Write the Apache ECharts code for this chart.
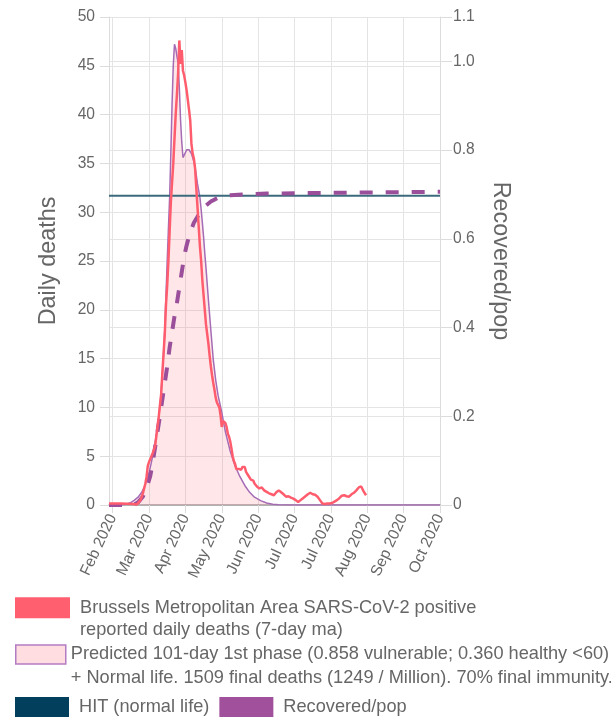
<!DOCTYPE html>
<html>
<head>
<meta charset="utf-8">
<script src="https://cdn.jsdelivr.net/npm/echarts@6/dist/echarts.min.js"></script>
<style>
html,body{margin:0;padding:0;background:#fff;}
#chart{width:611px;height:719px;}
</style>
</head>
<body>
<div id="chart"></div>
<script>
// ---- Data ----
const startDate = '2020-01-29';
const dayCount = 274;
const tickIdx = [3, 33, 63, 93, 123, 153, 183, 213, 243, 273];
const tickLabels = ['Feb 2020','Mar 2020','Apr 2020','May 2020','Jun 2020','Jul 2020','Jul 2020','Aug 2020','Sep 2020','Oct 2020'];

const RED_NAME = 'Brussels Metropolitan Area SARS-CoV-2 positive reported daily deaths (7-day ma)';
const PRED_NAME = 'Predicted 101-day 1st phase (0.858 vulnerable; 0.360 healthy <60) + Normal life. 1509 final deaths (1249 / Million). 70% final immunity.';
const HIT_NAME = 'HIT (normal life)';
const REC_NAME = 'Recovered/pop';

const redDays = [0,10,20,23,24,26,28,30,31,32,33,34,35,36,37,38,39,40,41,42,43,44,45,46,47,48,49,50,51,52,53,54,55,56,57,58,59,60,61,62,63,64,65,66,67,68,69,70,71,72,73,74,75,76,77,78,79,80,81,82,83,84,85,86,87,88,89,90,91,92,93,94,95,96,97,98,99,100,101,102,103,104,105,106,107,108,109,110,111,112,113,114,115,116,117,118,119,120,121,122,124,126,128,130,132,134,136,138,140,142,144,146,148,150,152,154,156,158,160,162,164,166,168,170,172,174,176,178,180,182,184,186,188,190,192,194,196,198,200,202,204,206,207,208,209,210,212];
const redVals = [0.15,0.15,0.1,0.05,0,0.5,1.2,2.2,2.9,4.0,4.4,4.7,5.0,5.3,5.5,6.0,7.0,8.0,9.0,10.2,11.3,13.5,15.5,17.5,20.5,22.5,25,28,31,33,35,37.5,40,42,44.2,47.6,45.2,46.6,44.5,44,43.3,42.5,41.5,40.5,39.4,37,36,35.5,34.5,32.5,30.5,28.5,26.5,25,23,21.5,20,18.5,17.5,16.5,15.3,14.2,13.3,12.5,11.8,11,10.5,10.6,10,9.2,8.0,8.6,8.8,8.4,8.0,7.3,7.0,6.5,5.8,5.0,4.5,4.2,3.7,3.6,3.7,3.8,3.6,3.9,3.7,3.9,3.4,3.2,3.0,2.9,2.6,2.5,2.5,2.2,2.0,1.9,1.7,1.8,1.5,1.35,1.2,1.1,1.0,1.3,1.5,1.3,1.1,0.85,0.9,0.75,0.65,0.5,0.3,0.5,0.7,0.9,1.1,1.25,1.1,1.05,0.85,0.5,0.15,0.1,0.15,0.15,0.2,0.35,0.5,0.7,0.95,1.0,0.9,0.85,1.1,1.25,1.5,1.8,1.6,1.9,1.7,1.4,1.0];

const predDays = [0,10,15,18,21,24,27,29,31,33,35,37,39,41,42,43,44,45,46,47,48,49,50,51,52,53,54,55,56,57,58,59,60,61,62,63,64,65,66,67,68,69,70,71,72,73,74,75,76,77,78,79,80,82,84,86,88,90,93,96,100,104,108,112,116,120,125,130,135,140,150,273];
const predVals = [0,0.03,0.1,0.25,0.5,0.8,1.3,1.8,2.5,3.3,4.4,5.6,7.2,9.0,10.1,11.6,13.5,15.5,18,21.5,25,28.3,31.5,36,41,45,47.2,46.8,46,45.3,42.8,39.5,37.2,35.6,35.7,36.1,36.4,36.5,36.4,36.2,36,35.6,35.2,34.6,33.8,32.9,32.2,31.5,30.3,28.9,27.5,25.8,24.3,21,17.9,14.9,12.8,11.2,9.5,7.5,5.5,4.0,2.9,2.0,1.3,0.8,0.45,0.2,0.08,0.03,0,0];

const recDays = [0,20,24,28,31,34,36,38,40,42,44,46,48,50,52,54,56,58,60,62,64,66,68,70,73,76,80,84,88,92,100,110,130,160,200,240,273];
const recVals = [0,0,0.006,0.019,0.038,0.065,0.095,0.13,0.165,0.2,0.238,0.275,0.312,0.355,0.39,0.425,0.455,0.49,0.525,0.56,0.585,0.605,0.622,0.636,0.65,0.662,0.675,0.684,0.69,0.695,0.698,0.7,0.702,0.703,0.704,0.705,0.706];

const hitDays = [0, 273];
const hitVals = [0.697, 0.697];

// ---- Build ----
const categories = [];
(function(){
  const d0 = new Date(startDate + 'T00:00:00Z');
  for (let i = 0; i < dayCount; i++) {
    const d = new Date(d0.getTime() + i * 86400000);
    categories.push(d.toISOString().slice(0, 10));
  }
})();
const pairs = (xs, ys) => xs.map((x, i) => [x, ys[i]]);
const isTick = (idx) => tickIdx.indexOf(idx) >= 0;

const chart = echarts.init(document.getElementById('chart'), null, {renderer: 'canvas'});
const FONT = 'Liberation Sans, Arial, Helvetica, sans-serif';
const TXT = '#666';
const FS = 15.6;
const LFS = 18.2;

const option = {
  animation: false,
  textStyle: {fontFamily: FONT},
  grid: {left: 109, right: 171, top: 17, bottom: 214, containLabel: false},
  legend: [
    {
      left: 15, top: 574.8, padding: 0, orient: 'vertical', selectedMode: false,
      itemWidth: 55, itemHeight: 21,
      data: [{name: RED_NAME, icon: 'rect', itemStyle: {color: '#ff5f6f', borderWidth: 0}}],
      formatter: (n) => '\n' + n.replace(' reported', '\nreported'),
      textStyle: {fontFamily: FONT, fontSize: LFS, color: TXT, lineHeight: 22, padding: [0, 0, 0, 5]}
    },
    {
      left: 15, top: 619.5, padding: 0, orient: 'vertical', selectedMode: false,
      itemWidth: 50, itemHeight: 19,
      data: [{name: PRED_NAME, icon: 'rect', itemStyle: {color: '#ffdde0', borderColor: '#b47cc2', borderWidth: 1.5}}],
      formatter: (n) => '\n' + n.replace(' + Normal', '\n+ Normal'),
      textStyle: {fontFamily: FONT, fontSize: LFS, color: TXT, lineHeight: 23.3}
    },
    {
      left: 15, top: 697, padding: 0, orient: 'horizontal', selectedMode: false,
      itemWidth: 54, itemHeight: 20, itemGap: 10,
      data: [
        {name: HIT_NAME, icon: 'rect', itemStyle: {color: '#013f5c', borderWidth: 0}, textStyle: {padding: [0, 0, 0, 5]}},
        {name: REC_NAME, icon: 'rect', itemStyle: {color: '#a1519b', borderWidth: 0}, textStyle: {padding: [0, 0, 0, 5]}}
      ],
      textStyle: {fontFamily: FONT, fontSize: LFS, color: TXT, lineHeight: 20}
    }
  ],
  xAxis: {
    type: 'category',
    data: categories,
    boundaryGap: false,
    axisLine: {show: true, lineStyle: {color: '#a0a0a0', width: 1.5}},
    axisTick: {show: true, interval: (i) => isTick(i), length: 8, lineStyle: {color: '#dcdcdc'}},
    axisLabel: {
      interval: (i) => isTick(i),
      formatter: (v, i) => tickLabels[tickIdx.indexOf(i)],
      rotate: 65, fontSize: FS, color: TXT, margin: 10, fontFamily: FONT
    },
    splitLine: {show: true, interval: (i) => isTick(i), lineStyle: {color: '#e4e4e4'}}
  },
  yAxis: [
    {
      type: 'value', min: 0, max: 50, interval: 5, position: 'left',
      name: 'Daily deaths', nameLocation: 'middle', nameGap: 49, nameRotate: 90,
      nameTextStyle: {fontSize: 23.4, color: TXT, fontFamily: FONT},
      axisLine: {show: true, lineStyle: {color: '#dcdcdc'}},
      axisTick: {show: true, length: 9, lineStyle: {color: '#dcdcdc'}},
      axisLabel: {fontSize: FS, color: TXT, margin: 14, fontFamily: FONT},
      splitLine: {show: true, lineStyle: {color: '#e4e4e4'}}
    },
    {
      type: 'value', min: 0, max: 1.1, interval: 0.2, position: 'right',
      name: 'Recovered/pop', nameLocation: 'middle', nameGap: 49, nameRotate: -90,
      nameTextStyle: {fontSize: 23.4, color: TXT, fontFamily: FONT},
      axisLine: {show: true, lineStyle: {color: '#dcdcdc'}},
      axisTick: {show: true, length: 12, lineStyle: {color: '#dcdcdc'}},
      axisLabel: {fontSize: FS, color: TXT, margin: 13, fontFamily: FONT,
        formatter: (v) => v === 0 ? '0' : v.toFixed(1)},
      splitLine: {show: true, lineStyle: {color: '#e4e4e4'}}
    }
  ],
  series: [
    {
      name: PRED_NAME, type: 'line', yAxisIndex: 0, data: pairs(predDays, predVals),
      showSymbol: false, symbol: 'none',
      lineStyle: {color: '#a66bb5', width: 1.5},
      itemStyle: {color: '#a66bb5'},
      areaStyle: {color: 'rgba(255,120,130,0.25)'}
    },
    {
      name: HIT_NAME, type: 'line', yAxisIndex: 1, data: pairs(hitDays, hitVals),
      showSymbol: false, symbol: 'none',
      lineStyle: {color: '#3b6a7c', width: 2},
      itemStyle: {color: '#013f5c'}
    },
    {
      name: REC_NAME, type: 'line', yAxisIndex: 1, data: pairs(recDays, recVals),
      showSymbol: false, symbol: 'none',
      lineStyle: {color: '#9b4f9b', width: 4, type: [13, 13]},
      itemStyle: {color: '#a1519b'}
    },
    {
      name: RED_NAME, type: 'line', yAxisIndex: 0, data: pairs(redDays, redVals),
      showSymbol: false, symbol: 'none',
      lineStyle: {color: '#ff5d6e', width: 2.5},
      itemStyle: {color: '#ff5f6f'}
    }
  ]
};
chart.setOption(option);
</script>
</body>
</html>
